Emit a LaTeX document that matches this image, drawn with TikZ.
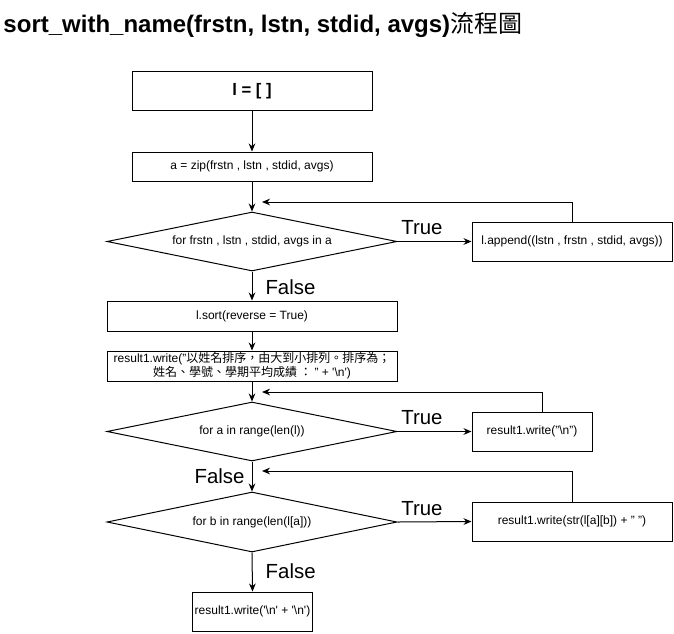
\documentclass[tikz,border=0pt]{standalone}
\usepackage{fontspec}
\setmainfont{Liberation Sans}
\newfontfamily\cjk{Noto Sans CJK TC}
\usetikzlibrary{shapes.geometric,arrows.meta}
\newcommand{\bsl}{\textbackslash}
\newcommand{\squo}{\textquotesingle}

\begin{document}
\begin{tikzpicture}[x=0.75pt,y=-0.75pt,line width=0.75pt,
    box/.style={draw,rectangle,inner sep=0pt,align=center,font=\fontsize{9}{10.5}\selectfont},
    cond/.style={draw,diamond,aspect=4.9,inner sep=0pt,font=\fontsize{9}{10.5}\selectfont},
    lbl/.style={inner sep=0pt,font=\fontsize{15.3}{18}\selectfont},
    arr/.style={-{Stealth[length=6pt,width=5pt]}}]
            \useasboundingbox (0,0) rectangle (674,633);
            \node (title) at (3,32) [anchor=base west,inner sep=0pt,font=\fontsize{18}{21}\selectfont\bfseries] {sort\_with\_name(frstn, lstn, stdid, avgs){\cjk\mdseries 流程圖}};
            % main column
            \node (init) at (252,91) [box,minimum width=180pt,minimum height=29.25pt,font=\fontsize{12.5}{15}\selectfont\bfseries] {l = [ ]};
            \node (zip) at (252,166.5) [box,minimum width=180pt,minimum height=21.75pt] {a = zip(frstn , lstn , stdid, avgs)};
            \node (loopa) at (252,241.5) [cond,minimum width=217.5pt,minimum height=44.25pt] {for frstn , lstn , stdid, avgs in a};
            \node (sort) at (252,316) [box,minimum width=217.5pt,minimum height=22.5pt] {l.sort(reverse = True)};
            \node (head) at (252,366) [box,minimum width=217.5pt,minimum height=22.5pt] {result1.write("{\cjk 以姓名排序，由大到小排列。排序為；}\\{\cjk 姓名、學號、學期平均成績 ： }" + \squo\bsl n\squo)};
            \node (loopb) at (252,431.5) [cond,minimum width=217.5pt,minimum height=44.25pt] {for a in range(len(l))};
            \node (loopc) at (252,522) [cond,minimum width=217.5pt,minimum height=45pt] {for b in range(len(l[a]))};
            \node (last) at (252.5,611.5) [box,minimum width=90pt,minimum height=29.25pt] {result1.write(\squo\bsl n\squo\ + \squo\bsl n\squo)};
            % right column
            \node (app) at (572,241.5) [box,minimum width=150pt,minimum height=29.25pt] {l.append((lstn , frstn , stdid, avgs))};
            \node (nl) at (532,431.5) [box,minimum width=90pt,minimum height=29.25pt] {result1.write("\bsl n")};
            \node (item) at (572,521.5) [box,minimum width=150pt,minimum height=29.25pt] {result1.write(str(l[a][b]) + " ")};
            % corners of the loops
            \coordinate (ka) at (572,202);
            \coordinate (ra) at (262,202);
            \coordinate (kb) at (542,392);
            \coordinate (rb) at (262,392);
            \coordinate (kc) at (572,471);
            \coordinate (rc) at (262,471);

            \draw[arr] (init) -- (zip);
            \draw[arr] (zip) -- (loopa);
            \draw[arr] (loopa.east) -- node[lbl,pos=0.33,above=4.5pt] {True} (app.west);
            \draw[arr] (app.north) -- (ka) -- (ra);
            \draw[arr] (loopa.south) -- node[lbl,pos=0.55,right=9.75pt] {False} (sort.north);
            \draw[arr] (sort) -- (head);
            \draw[arr] (head) -- (loopb);
            \draw[arr] (loopb.east) -- node[lbl,pos=0.33,above=4.5pt] {True} (nl.west);
            \draw[arr] (nl.north -| kb) -- (kb) -- (rb);
            \draw[arr] (loopb.south) -- node[lbl,pos=0.5,left=5.25pt] {False} (loopc.north);
            \draw[arr] (loopc.east) -- node[lbl,pos=0.33,above=4.5pt] {True} (item.west);
            \draw[arr] (item.north) -- (kc) -- (rc);
            \draw[arr] (loopc.south) -- node[lbl,pos=0.48,right=9.75pt] {False} (last.north);
\end{tikzpicture}
\end{document}
